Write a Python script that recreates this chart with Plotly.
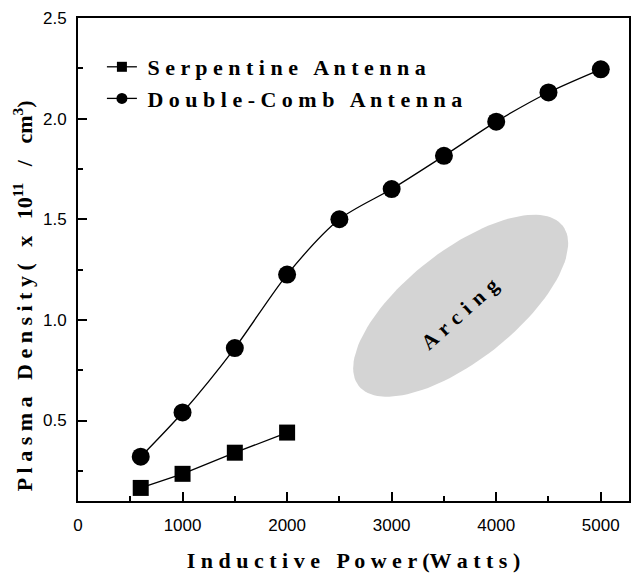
import numpy as np
import plotly.graph_objects as go

# ---------------- data ----------------
power_serp = [600, 1000, 1500, 2000]
dens_serp = [0.165, 0.235, 0.34, 0.44]

power_comb = [600, 1000, 1500, 2000, 2500, 3000, 3500, 4000, 4500, 5000]
dens_comb = [0.32, 0.54, 0.86, 1.225, 1.50, 1.65, 1.815, 1.985, 2.13, 2.245]

x_tick_vals = [0, 1000, 2000, 3000, 4000, 5000]
x_tick_text = ["0", "1000", "2000", "3000", "4000", "5000"]
y_tick_vals = [0.5, 1.0, 1.5, 2.0, 2.5]
y_tick_text = ["0.5", "1.0", "1.5", "2.0", "2.5"]

serp_name = "\u00a0S e r p e n t i n e \u00a0 A n t e n n a"
comb_name = "\u00a0D o u b l e - C o m b \u00a0 A n t e n n a"
x_title = "I n d u c t i v e \u00a0 P o w e r (W a t t s )"
y_title = ("P l a s m a \u00a0 D e n s i t y ( \u00a0 x \u00a0 10<sup>11</sup> \u00a0 / \u00a0 cm<sup>3</sup>)")
arc_label = "A \u200ar \u200ac \u200ai \u200an \u200ag"

# arcing region (centre in data units, semi-axes in pixels, tilt in degrees)
arc_center = (3660, 1.07)
arc_semi_px = (130, 55)
arc_tilt = 38
arc_label_pos = (3650, 1.03)

# ---------------- layout geometry ----------------
W, H = 632, 576
ML, MR, MT, MB = 78, 1, 18, 75
X_RANGE = [0, 5270]
Y_RANGE = [0.1, 2.5]
plot_w = W - ML - MR
plot_h = H - MT - MB
sx = (X_RANGE[1] - X_RANGE[0]) / plot_w
sy = (Y_RANGE[1] - Y_RANGE[0]) / plot_h

t = np.linspace(0, 2 * np.pi, 121)
th = np.deg2rad(arc_tilt)
a, b = arc_semi_px
ux = a * np.cos(t) * np.cos(th) - b * np.sin(t) * np.sin(th)
uy = a * np.cos(t) * np.sin(th) + b * np.sin(t) * np.cos(th)
ex = arc_center[0] + ux * sx
ey = arc_center[1] + uy * sy

serif = "Liberation Serif, Times New Roman, serif"
sans = "Liberation Sans, Arial, sans-serif"

fig = go.Figure()

fig.add_trace(go.Scatter(
    x=ex, y=ey, mode="lines", fill="toself",
    fillcolor="#d4d4d4", line=dict(width=0, color="#d4d4d4"),
    showlegend=False, hoverinfo="skip"))

fig.add_trace(go.Scatter(
    x=power_serp, y=dens_serp, mode="lines+markers", showlegend=False,
    line=dict(color="black", width=1.3),
    marker=dict(symbol="square", size=16, color="black")))

fig.add_trace(go.Scatter(
    x=power_comb, y=dens_comb, mode="lines+markers", showlegend=False,
    line=dict(color="black", width=1.3, shape="spline", smoothing=0.8),
    marker=dict(symbol="circle", size=18, color="black")))

# legend entries (small symbols as in the original key)
fig.add_trace(go.Scatter(
    x=[None], y=[None], name=serp_name, mode="lines+markers",
    line=dict(color="black", width=1.3),
    marker=dict(symbol="square", size=10, color="black")))
fig.add_trace(go.Scatter(
    x=[None], y=[None], name=comb_name, mode="lines+markers",
    line=dict(color="black", width=1.3),
    marker=dict(symbol="circle", size=11, color="black")))

fig.add_annotation(
    x=arc_label_pos[0], y=arc_label_pos[1], xref="x", yref="y",
    text=arc_label, showarrow=False, textangle=-42,
    font=dict(family=serif, size=21, color="black", weight="bold"))

fig.add_annotation(
    x=(23 - ML) / plot_w, y=(H - MB - 296) / plot_h, xref="paper", yref="paper",
    text=y_title, showarrow=False, textangle=-90,
    xanchor="center", yanchor="middle",
    font=dict(family=serif, size=22, color="black", weight="bold"))

fig.update_layout(
    width=W, height=H,
    margin=dict(l=ML, r=MR, t=MT, b=MB, pad=0),
    plot_bgcolor="white", paper_bgcolor="white",
    showlegend=True,
    legend=dict(
        x=(102 - ML) / plot_w, y=1 - (46 - MT) / plot_h,
        xanchor="left", yanchor="top",
        bgcolor="rgba(0,0,0,0)", borderwidth=0,
        itemsizing="trace",
        font=dict(family=serif, size=22, color="black", weight="bold"),
        tracegroupgap=0),
)

fig.update_xaxes(
    range=X_RANGE, showgrid=False, zeroline=False,
    showline=True, linecolor="black", linewidth=2, mirror=True,
    ticks="inside", ticklen=9, tickwidth=1.5, tickcolor="black",
    tickvals=x_tick_vals, ticktext=x_tick_text,
    ticklabelstandoff=8,
    minor=dict(ticks="inside", ticklen=5, tickwidth=1.5, tickcolor="black", dtick=500, tick0=0),
    tickfont=dict(family=sans, size=17, color="black"),
    title=dict(text=x_title, standoff=18,
               font=dict(family=serif, size=22, color="black", weight="bold")))

fig.update_yaxes(
    range=Y_RANGE, showgrid=False, zeroline=False,
    showline=True, linecolor="black", linewidth=2, mirror=True,
    ticks="inside", ticklen=9, tickwidth=1.5, tickcolor="black",
    tickvals=y_tick_vals, ticktext=y_tick_text,
    ticklabelstandoff=6,
    minor=dict(ticks="inside", ticklen=5, tickwidth=1.5, tickcolor="black", dtick=0.25, tick0=0),
    tickfont=dict(family=sans, size=17, color="black"))

fig.write_html("out.html")
